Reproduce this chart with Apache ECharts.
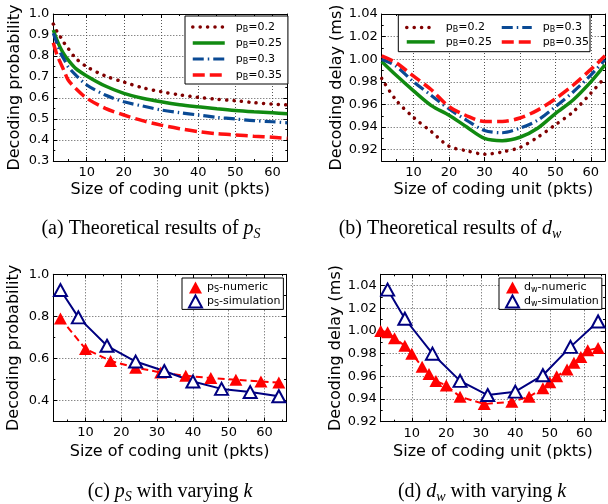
<!DOCTYPE html>
<html>
<head>
<meta charset="utf-8">
<script src="https://cdn.jsdelivr.net/npm/echarts@6/dist/echarts.min.js"></script>
<style>
html, body { margin: 0; padding: 0; background: #fff; }
#main { width: 608px; height: 504px; }
</style>
</head>
<body>
<div id="main"></div>
<script>
// (a) theoretical decoding probability
var aX = [1, 2, 3, 4, 5, 7, 10, 15, 20, 25, 30, 35, 40, 45, 50, 55, 60, 64];
var aP20 = [0.952, 0.916, 0.889, 0.86, 0.836, 0.79, 0.749, 0.705, 0.676, 0.649, 0.63, 0.615, 0.603, 0.594, 0.587, 0.578, 0.571, 0.567];
var aP25 = [0.924, 0.876, 0.836, 0.805, 0.781, 0.741, 0.705, 0.657, 0.622, 0.599, 0.582, 0.568, 0.558, 0.549, 0.541, 0.535, 0.53, 0.525];
var aP30 = [0.908, 0.86, 0.813, 0.781, 0.749, 0.71, 0.662, 0.614, 0.582, 0.562, 0.543, 0.53, 0.519, 0.508, 0.5, 0.492, 0.487, 0.482];
var aP35 = [0.863, 0.805, 0.765, 0.725, 0.686, 0.646, 0.599, 0.551, 0.519, 0.492, 0.471, 0.454, 0.44, 0.43, 0.424, 0.418, 0.413, 0.408];

// (b) theoretical decoding delay
var bX = [1, 5, 10, 15, 20, 25, 30, 35, 40, 45, 50, 55, 60, 64];
var bP20 = [0.983, 0.964, 0.9485, 0.936, 0.923, 0.919, 0.916, 0.918, 0.922, 0.931, 0.942, 0.9535, 0.97, 0.984];
var bP25 = [0.998, 0.986, 0.972, 0.959, 0.9505, 0.94, 0.93, 0.928, 0.931, 0.939, 0.952, 0.964, 0.98, 0.995];
var bP30 = [1.0, 0.994, 0.98, 0.968, 0.956, 0.946, 0.937, 0.935, 0.939, 0.946, 0.958, 0.971, 0.986, 0.9995];
var bP35 = [1.003, 0.997, 0.985, 0.973, 0.958, 0.95, 0.945, 0.945, 0.948, 0.955, 0.965, 0.977, 0.991, 1.003];

// (c) p_S with varying k
var cNumX = [3, 10, 17, 24, 31, 38, 45, 52, 59, 64];
var cNumY = [0.79, 0.645, 0.588, 0.556, 0.533, 0.517, 0.507, 0.498, 0.49, 0.485];
var cSimX = [3, 8, 16, 24, 32, 40, 48, 56, 64];
var cSimY = [0.925, 0.795, 0.66, 0.585, 0.54, 0.49, 0.455, 0.44, 0.42];

// (d) d_w with varying k
var dNumX = [1, 3, 5, 8, 10, 13, 15, 17, 20, 24, 31, 39, 44, 48, 50, 52, 55, 57, 59, 61, 64];
var dNumY = [1.0, 0.999, 0.9935, 0.987, 0.98, 0.9685, 0.962, 0.956, 0.952, 0.942, 0.9356, 0.9376, 0.942, 0.9494, 0.9547, 0.96, 0.966, 0.972, 0.977, 0.983, 0.985];
var dSimX = [3, 8, 16, 24, 32, 40, 48, 56, 64];
var dSimY = [1.0365, 1.0108, 0.98, 0.956, 0.9435, 0.9465, 0.961, 0.986, 1.0084];

var pNames = ['pB=0.2', 'pB=0.25', 'pB=0.3', 'pB=0.35'];

var sans = 'DejaVu Sans';
var serif = 'Liberation Serif';

function zip(xs, ys) {
    var out = [];
    for (var i = 0; i < xs.length; i++) out.push([xs[i], ys[i]]);
    return out;
}

function stepLabel(step, dec) {
    return function (v) {
        var r = v / step;
        return Math.abs(r - Math.round(r)) < 1e-6 ? v.toFixed(dec) : '';
    };
}

var xAxes = [];
var yAxes = [];

function addAxes(g, xmin, xmax, ymin, ymax, ySplit, yStep, yDec, yName, yGap, xGap) {
    var line = { show: true, onZero: false, lineStyle: { color: '#000', width: 1 } };
    var tick = { show: true, inside: true, length: 4, lineStyle: { color: '#000' } };
    var minor = { show: true, splitNumber: 2, length: 2, lineStyle: { color: '#000' } };
    var grid = { show: true, lineStyle: { color: '#555', width: 1, type: [1, 2] } };
    var label = { fontFamily: sans, fontSize: 13, color: '#000' };
    var nameStyle = { fontFamily: sans, fontSize: 16, color: '#000' };

    xAxes.push({
        gridIndex: g, type: 'value', min: xmin, max: xmax, position: 'bottom',
        axisLine: line, axisTick: tick, minorTick: minor, splitLine: grid,
        axisLabel: Object.assign({ margin: 5, formatter: stepLabel(10, 0) }, label),
        name: 'Size of coding unit (pkts)', nameLocation: 'middle', nameGap: xGap,
        nameTextStyle: nameStyle
    });
    xAxes.push({
        gridIndex: g, type: 'value', min: xmin, max: xmax, position: 'top',
        axisLine: line, axisTick: tick, minorTick: minor,
        axisLabel: { show: false }, splitLine: { show: false }
    });
    yAxes.push({
        gridIndex: g, type: 'value', min: ymin, max: ymax, splitNumber: ySplit, position: 'left',
        axisLine: line, axisTick: tick, minorTick: minor, splitLine: grid,
        axisLabel: Object.assign({ margin: 4, formatter: stepLabel(yStep, yDec) }, label),
        name: yName, nameLocation: 'middle', nameGap: yGap,
        nameTextStyle: nameStyle
    });
    yAxes.push({
        gridIndex: g, type: 'value', min: ymin, max: ymax, splitNumber: ySplit, position: 'right',
        axisLine: line, axisTick: tick, minorTick: minor,
        axisLabel: { show: false }, splitLine: { show: false }
    });
}

addAxes(0, 1, 64, 0.3, 1.0, 7, 0.1, 1, 'Decoding probability', 30, 21);
addAxes(1, 1, 64, 0.91, 1.04, 6, 0.02, 2, 'Decoding delay (ms)', 37, 21);
addAxes(2, 1, 66, 0.3, 1.0, 3, 0.2, 1, 'Decoding probability', 31, 22);
addAxes(3, 1, 66, 0.92, 1.05, 6, 0.02, 2, 'Decoding delay (ms)', 36, 22);

var brown = { color: '#800000', width: 3.5, type: [0.1, 7.3], cap: 'round' };
var green = { color: '#118a11', width: 3.5 };
var blue = { color: '#0a4a94', width: 3.2, type: [11, 4, 1.5, 4] };
var red = { color: '#ff1010', width: 3.5, type: [12, 5] };
var topStyles = [brown, green, blue, red];

var series = [];
[aP20, aP25, aP30, aP35].forEach(function (ys, i) {
    series.push({ name: pNames[i], type: 'line', xAxisIndex: 0, yAxisIndex: 0, data: zip(aX, ys),
        symbol: 'none', smooth: 0.3, lineStyle: topStyles[i], itemStyle: { color: topStyles[i].color } });
});
[bP20, bP25, bP30, bP35].forEach(function (ys, i) {
    series.push({ name: pNames[i], type: 'line', xAxisIndex: 2, yAxisIndex: 2, data: zip(bX, ys),
        symbol: 'none', smooth: 0.3, lineStyle: topStyles[i], itemStyle: { color: topStyles[i].color } });
});

function numeric(name, ax, xs, ys) {
    return { name: name, type: 'line', xAxisIndex: ax, yAxisIndex: ax, data: zip(xs, ys),
        symbol: 'triangle', symbolSize: [13, 12],
        lineStyle: { color: '#ff0000', width: 2, type: [7, 4] },
        itemStyle: { color: '#ff0000' } };
}
function simulation(name, ax, xs, ys) {
    return { name: name, type: 'line', xAxisIndex: ax, yAxisIndex: ax, data: zip(xs, ys),
        symbol: 'triangle', symbolSize: [13, 12],
        lineStyle: { color: '#000080', width: 2 },
        itemStyle: { color: '#fff', borderColor: '#000080', borderWidth: 2 } };
}
series.push(numeric('pS-numeric', 4, cNumX, cNumY));
series.push(simulation('pS-simulation', 4, cSimX, cSimY));
series.push(numeric('dw-numeric', 6, dNumX, dNumY));
series.push(simulation('dw-simulation', 6, dSimX, dSimY));

function subFormatter(name) {
    return name.charAt(0) + '{s|' + name.charAt(1) + '}' + name.slice(2);
}
var legendText = {
    fontFamily: sans, fontSize: 11, color: '#000', lineHeight: 14, padding: [0, 0, 0, 6],
    rich: { s: { fontFamily: sans, fontSize: 8, color: '#000', verticalAlign: 'bottom', lineHeight: 9 } }
};
var legendText2 = Object.assign({}, legendText, { lineHeight: 13, padding: 0 });
var noSymbol = { opacity: 0 };

// legend entries carry their own thick line so the icons match the plot
function lineItem(i) {
    var ls = { width: topStyles[i].width };
    if (topStyles[i].cap) ls.cap = topStyles[i].cap;
    return { name: pNames[i], lineStyle: ls };
}

var legends = [
    { left: 185, top: 16, orient: 'vertical', padding: [4, 6, 2, 6], itemGap: 2, itemWidth: 32, itemHeight: 10,
      backgroundColor: '#fff', borderColor: '#000', borderWidth: 1, selectedMode: false, itemStyle: noSymbol,
      data: [lineItem(0), lineItem(1), lineItem(2), lineItem(3)], formatter: subFormatter, textStyle: legendText },
    { left: 405, top: 21, orient: 'vertical', padding: 0, itemGap: 1.4, itemWidth: 28, itemHeight: 10,
      selectedMode: false, itemStyle: noSymbol, data: [lineItem(0), lineItem(1)], formatter: subFormatter,
      textStyle: Object.assign({}, legendText, { lineHeight: 13 }) },
    { left: 500, top: 21, orient: 'vertical', padding: 0, itemGap: 1.4, itemWidth: 30, itemHeight: 10,
      selectedMode: false, itemStyle: noSymbol, data: [lineItem(2), lineItem(3)], formatter: subFormatter,
      textStyle: Object.assign({}, legendText, { lineHeight: 13 }) },
    { left: 182, top: 278, orient: 'vertical', padding: [3, 3, 1, 6], itemGap: 0.4, itemWidth: 13, itemHeight: 12,
      backgroundColor: '#fff', borderColor: '#000', borderWidth: 1, selectedMode: false,
      data: [{ name: 'pS-numeric', icon: 'triangle' }, { name: 'pS-simulation', icon: 'triangle' }],
      formatter: subFormatter, textStyle: legendText2 },
    { left: 499, top: 278, orient: 'vertical', padding: [3, 3, 1, 6], itemGap: 0.4, itemWidth: 13, itemHeight: 12,
      backgroundColor: '#fff', borderColor: '#000', borderWidth: 1, selectedMode: false,
      data: [{ name: 'dw-numeric', icon: 'triangle' }, { name: 'dw-simulation', icon: 'triangle' }],
      formatter: subFormatter, textStyle: legendText2 }
];

var capRich = {
    i: { fontFamily: serif, fontSize: 20, fontStyle: 'italic', fill: '#000', lineHeight: 25 },
    s: { fontFamily: serif, fontSize: 14, fontStyle: 'italic', fill: '#000', verticalAlign: 'bottom', lineHeight: 14 }
};
function caption(text, x, y) {
    return { type: 'text', x: x, y: y, z: 10, silent: true,
        style: { text: text, fontFamily: serif, fontSize: 20, fill: '#000', lineHeight: 25,
            align: 'center', verticalAlign: 'middle', rich: capRich } };
}

var option = {
    backgroundColor: '#fff',
    animation: false,
    grid: [
        { left: 53.3, top: 14, right: 320.7, bottom: 343 },
        { left: 381.7, top: 14, right: -1.3, bottom: 343 },
        { left: 53.3, top: 274.3, right: 322, bottom: 82.5 },
        { left: 380.7, top: 274.3, right: -4, bottom: 82.3 }
    ],
    xAxis: xAxes,
    yAxis: yAxes,
    legend: legends,
    graphic: [
        { type: 'rect', z: 3, silent: true, shape: { x: 398.3, y: 15, width: 191.7, height: 36.7 },
          style: { fill: '#fff', stroke: '#000', lineWidth: 1 } },
        caption('(a) Theoretical results of {i|p}{s|S}', 151, 229),
        caption('(b) Theoretical results of {i|d}{s|w}', 450, 229),
        caption('(c) {i|p}{s|S} with varying {i|k}', 170, 492),
        caption('(d) {i|d}{s|w} with varying {i|k}', 482, 492)
    ],
    series: series
};

var myChart = echarts.init(document.getElementById('main'));
myChart.setOption(option);
</script>
</body>
</html>
